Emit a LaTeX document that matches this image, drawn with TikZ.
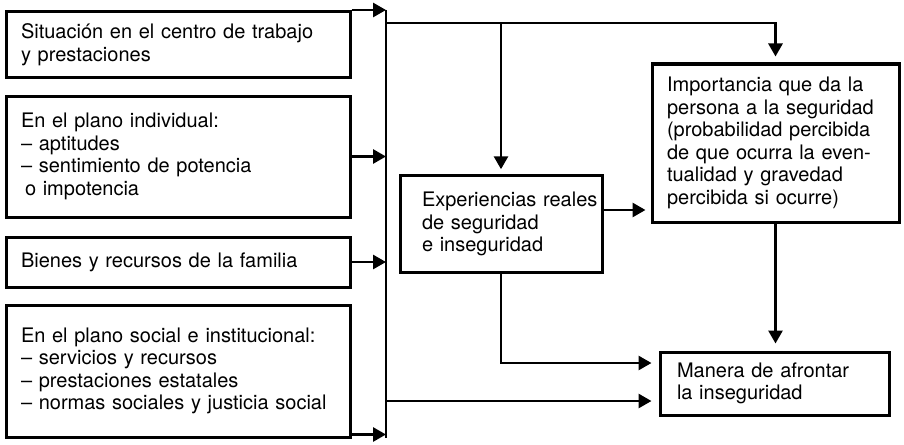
\documentclass[tikz,border=0pt]{standalone}
\usepackage{fontspec}
\setmainfont{TeX Gyre Heros}
\usetikzlibrary{arrows.meta}
\newcommand{\myln}[1]{\mbox{#1}}
\begin{document}
\begin{tikzpicture}[x=1pt,y=-1pt,
  box/.style={draw, line width=3pt, align=left, inner ysep=0pt,
    font=\fontsize{20}{22.5}\selectfont},
  arr/.style={line width=2.8pt, -{Triangle[length=13pt,width=14pt]}}]
\useasboundingbox (0,0) rectangle (904,444);
% left boxes
\node[box, minimum width=344pt, minimum height=66pt, inner xsep=15pt, text width=314pt] (b1) at (178,44.5)
  {\myln{Situación en el centro de trabajo}\\y prestaciones};
\node[box, minimum width=344pt, minimum height=121pt, inner xsep=15pt, text width=314pt] (b2) at (178,156.5)
  {En el plano individual:\\– aptitudes\\– sentimiento de potencia\\\hspace*{4pt}o impotencia};
\node[box, minimum width=344pt, minimum height=50pt, inner xsep=15pt, text width=314pt] (b3) at (178,262)
  {Bienes y recursos de la familia};
\node[box, minimum width=344pt, minimum height=132pt, inner xsep=15pt, text width=314pt] (b4) at (178,371)
  {\myln{En el plano social e institucional:}\\– servicios y recursos\\– prestaciones estatales\\\myln{– normas sociales y justicia social}};
% right boxes
\node[box, minimum width=202pt, minimum height=96.5pt, inner xsep=22pt, text width=158pt] (exp) at (501,224)
  {\myln{Experiencias reales}\\de seguridad\\e inseguridad};
\node[box, minimum width=247pt, minimum height=158pt, inner xsep=15pt, text width=217pt] (imp) at (775.5,143)
  {\myln{Importancia que da la}\\\myln{persona a la seguridad}\\\myln{(probabilidad percibida}\\\myln{de que ocurra la even-}\\\myln{tualidad y gravedad}\\\myln{percibida si ocurre)}};
\node[box, minimum width=229pt, minimum height=63pt, inner xsep=17pt, text width=195pt] (man) at (774.5,383.5)
  {Manera de afrontar\\la inseguridad};
% bus
\coordinate (bt) at (386,10);
\coordinate (bb) at (386,438);
\coordinate (j1) at (386,23);
\draw[line width=2.8pt] (bt) -- (bb);
\draw[arr] (b1.north east) -- (b1.north east -| bt);
\draw[arr] (b2.east) -- (b2.east -| bt);
\draw[arr] (b3.east) -- (b3.east -| bt);
\draw[arr] ([yshift=4pt]b4.south east) -- ([yshift=4pt]b4.south east -| bt);
% top distribution
\draw[arr, shorten >=6pt] (j1) -| (imp.north);
\draw[arr, shorten >=5pt] (j1 -| exp.north) -- (exp.north);
% experiences -> importance
\draw[arr, shorten >=5pt] ([yshift=14pt]exp.east) -- ([yshift=14pt]exp.east -| imp.west);
% importance -> manera
\draw[arr, shorten >=7pt] (imp.south) -- (imp.south |- man.north);
% experiences -> manera
\draw[arr, shorten >=7pt] (exp.south) |- ([yshift=20.5pt]man.west);
% bus -> manera
\draw[arr, shorten >=7pt] ([yshift=-17.5pt]man.west -| bt) -- ([yshift=-17.5pt]man.west);
\end{tikzpicture}
\end{document}
